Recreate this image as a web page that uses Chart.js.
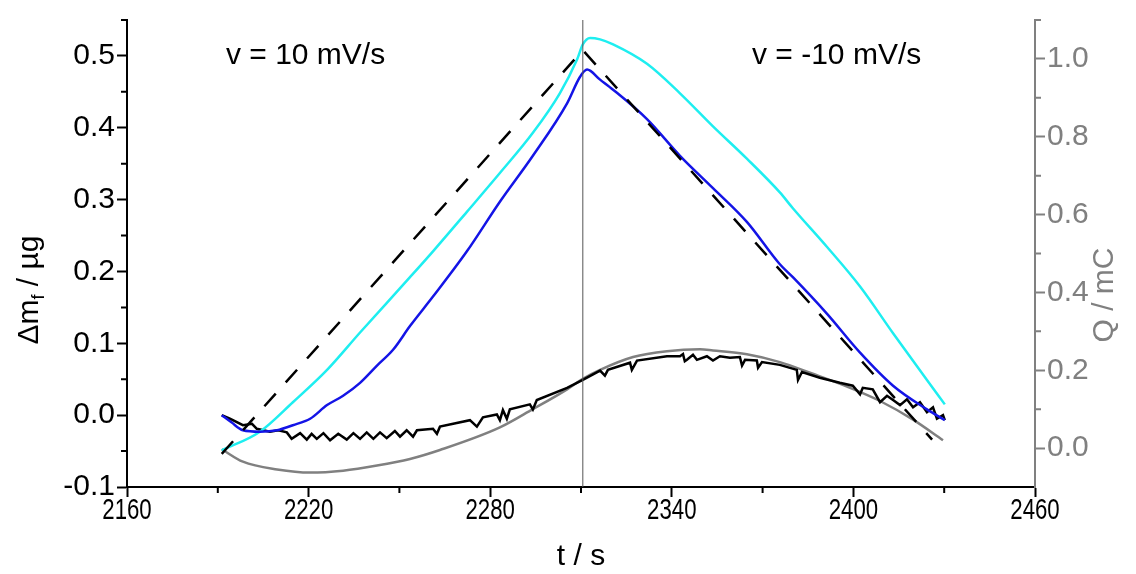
<!DOCTYPE html>
<html>
<head>
<meta charset="utf-8">
<script src="https://cdn.jsdelivr.net/npm/chart.js@4.4.1/dist/chart.umd.min.js"></script>
<style>
  html, body { margin: 0; padding: 0; background: #fff; }
  #wrap { width: 1136px; height: 574px; position: relative; }
</style>
</head>
<body>
<div id="wrap"><canvas id="chart"></canvas></div>
<script>
'use strict';

// time axis (s)
const xTicks = [2160, 2220, 2280, 2340, 2400, 2460];
const xMinor = [2190, 2250, 2310, 2370, 2430];
// left axis, mass change (µg)
const yTicks = [-0.1, 0.0, 0.1, 0.2, 0.3, 0.4, 0.5];
const yMinor = [-0.05, 0.05, 0.15, 0.25, 0.35, 0.45, 0.55];
// right axis, charge (mC)
const qTicks = [0.0, 0.2, 0.4, 0.6, 0.8, 1.0];
const qMinor = [0.1, 0.3, 0.5, 0.7, 0.9, 1.1];

const switchT = 2310.6;
const notes = ['v = 10 mV/s', 'v = -10 mV/s'];
const noteT = [2192.7, 2366.5];
const noteM = [0.5, 0.5];

// dashed black: model
const dashT = [2191.3, 2310.6, 2426.0];
const dashM = [-0.054, 0.508, -0.034];

// cyan
const cyanT = [2191.3, 2203.9, 2214.8, 2226.1, 2237.0, 2253.5, 2261.1, 2272.3, 2283.2, 2294.1, 2303.0, 2308.7,
  2310.6, 2313.0, 2316.3, 2320.6, 2331.8, 2342.7, 2353.6, 2364.8, 2375.7, 2380.0, 2391.3, 2402.2, 2413.1, 2424.3, 2430.2];
const cyanM = [-0.049, -0.023, 0.018, 0.063, 0.115, 0.192, 0.228, 0.283, 0.337, 0.393, 0.448, 0.495,
  0.516, 0.525, 0.523, 0.516, 0.489, 0.448, 0.402, 0.357, 0.310, 0.288, 0.234, 0.179, 0.114, 0.049, 0.015];

// blue
const blueT = [2191.3, 2194.5, 2198.3, 2203.9, 2209.6, 2214.8, 2220.5, 2226.1, 2231.4, 2237.0, 2242.6, 2247.9,
  2253.5, 2261.1, 2272.3, 2283.2, 2294.1, 2305.4, 2309.7, 2312.0, 2316.3, 2320.6, 2331.8, 2342.7, 2353.6,
  2364.8, 2375.7, 2380.0, 2391.3, 2402.2, 2413.1, 2424.3, 2430.2];
const blueM = [0.0, -0.010, -0.021, -0.023, -0.021, -0.014, -0.005, 0.014, 0.027, 0.045, 0.069, 0.091,
  0.124, 0.165, 0.228, 0.297, 0.361, 0.434, 0.471, 0.481, 0.467, 0.453, 0.412, 0.361, 0.316,
  0.269, 0.210, 0.192, 0.141, 0.087, 0.041, 0.008, -0.007];

// black, noisy
const blackT = [2191.3, 2194.0, 2198.3, 2201.3, 2202.9, 2207.2, 2210.0, 2212.8, 2214.4, 2217.2, 2219.4, 2221.0,
  2222.7, 2224.9, 2227.1, 2229.8, 2232.6, 2234.8, 2237.0, 2239.2, 2241.4, 2243.6, 2245.8, 2248.5, 2250.2,
  2252.4, 2254.5, 2255.8, 2261.1, 2262.4, 2263.4, 2273.3, 2275.6, 2277.6, 2282.2, 2283.2, 2284.2, 2285.5,
  2286.5, 2293.1, 2294.1, 2295.4, 2305.4, 2310.6, 2316.3, 2317.9, 2318.9, 2326.2, 2326.8, 2328.5, 2338.4,
  2342.7, 2343.7, 2344.3, 2345.0, 2347.0, 2348.3, 2351.6, 2353.6, 2355.9, 2359.2, 2362.5, 2363.2, 2364.2,
  2368.1, 2368.5, 2369.8, 2375.7, 2381.3, 2381.7, 2383.0, 2388.9, 2395.5, 2399.8, 2402.2, 2403.1, 2406.4,
  2408.8, 2411.1, 2413.1, 2415.4, 2417.7, 2419.7, 2422.0, 2424.3, 2426.3, 2427.6, 2429.6, 2430.2];
const blackM = [0.000, -0.005, -0.014, -0.012, -0.019, -0.023, -0.021, -0.024, -0.033, -0.025, -0.034, -0.026,
  -0.033, -0.025, -0.035, -0.026, -0.034, -0.025, -0.033, -0.024, -0.033, -0.024, -0.032, -0.022, -0.030,
  -0.021, -0.030, -0.021, -0.019, -0.026, -0.016, -0.007, -0.016, -0.003, 0.001, -0.007, 0.007, -0.005,
  0.008, 0.015, 0.008, 0.021, 0.038, 0.049, 0.062, 0.055, 0.063, 0.073, 0.063, 0.076, 0.082,
  0.082, 0.085, 0.075, 0.077, 0.084, 0.077, 0.082, 0.076, 0.082, 0.080, 0.081, 0.069, 0.077,
  0.076, 0.066, 0.074, 0.070, 0.063, 0.049, 0.060, 0.052, 0.045, 0.041, 0.029, 0.038, 0.036,
  0.018, 0.027, 0.021, 0.014, 0.022, 0.011, 0.018, 0.004, 0.011, -0.005, 0.000, -0.007];

// grey, charge on right axis
const greyT = [2191.3, 2198.3, 2209.6, 2220.5, 2231.4, 2242.6, 2253.5, 2263.4, 2283.2, 2294.1, 2305.4, 2310.6,
  2316.3, 2327.2, 2338.4, 2349.3, 2353.6, 2364.8, 2375.7, 2386.6, 2397.9, 2408.8, 2419.7, 2429.6];
const greyQ = [-0.003, -0.035, -0.055, -0.063, -0.058, -0.045, -0.028, -0.005, 0.053, 0.100, 0.151, 0.178,
  0.201, 0.234, 0.249, 0.254, 0.251, 0.241, 0.221, 0.191, 0.158, 0.121, 0.073, 0.020];

const grey = '#808080';
const font = '"Liberation Sans", Arial, sans-serif';

function pts(t, v) {
  return t.map((x, i) => ({ x: x, y: v[i] }));
}

const extras = {
  id: 'extras',
  afterDraw(chart) {
    const ctx = chart.ctx;
    const sx = chart.scales.x, sy = chart.scales.y, sq = chart.scales.q;
    ctx.save();
    ctx.lineWidth = 2;
    ctx.strokeStyle = '#000';
    ctx.beginPath();
    xMinor.forEach(v => {
      const p = sx.getPixelForValue(v);
      ctx.moveTo(p, sx.top);
      ctx.lineTo(p, sx.top + 6);
    });
    yMinor.forEach(v => {
      const p = sy.getPixelForValue(v);
      ctx.moveTo(sy.right, p);
      ctx.lineTo(sy.right - 6, p);
    });
    ctx.stroke();
    ctx.strokeStyle = grey;
    ctx.beginPath();
    qMinor.forEach(v => {
      const p = sq.getPixelForValue(v);
      ctx.moveTo(sq.left, p);
      ctx.lineTo(sq.left + 6, p);
    });
    ctx.stroke();

    const big = '30px ' + font, small = '18px ' + font;

    // x tick labels, narrow like the original
    ctx.fillStyle = '#000';
    ctx.font = big;
    ctx.textAlign = 'center';
    ctx.textBaseline = 'middle';
    xTicks.forEach(v => {
      ctx.save();
      ctx.translate(sx.getPixelForValue(v), sx.top + 24);
      ctx.scale(0.74, 1);
      ctx.fillText(String(v), 0, 0);
      ctx.restore();
    });
    ctx.fillText('t / s', (sx.left + sx.right) / 2, 557);

    // text in the plot
    ctx.textAlign = 'left';
    notes.forEach((n, i) => {
      ctx.fillText(n, sx.getPixelForValue(noteT[i]), sy.getPixelForValue(noteM[i]));
    });

    // left title, with subscript f
    ctx.save();
    ctx.translate(30, 290);
    ctx.rotate(-Math.PI / 2);
    ctx.font = big;
    const w1 = ctx.measureText('\u0394m').width;
    const w3 = ctx.measureText(' / \u00b5g').width;
    ctx.font = small;
    const w2 = ctx.measureText('f').width;
    let px = -(w1 + w2 + w3) / 2;
    ctx.font = big;
    ctx.fillText('\u0394m', px, 0);
    px += w1;
    ctx.font = small;
    ctx.fillText('f', px, 9);
    px += w2;
    ctx.font = big;
    ctx.fillText(' / \u00b5g', px, 0);
    ctx.restore();

    // right title
    ctx.save();
    ctx.translate(1105, 295);
    ctx.rotate(-Math.PI / 2);
    ctx.fillStyle = grey;
    ctx.font = big;
    ctx.textAlign = 'center';
    ctx.fillText('Q / mC', 0, 0);
    ctx.restore();

    ctx.restore();
  }
};

const ctx = document.getElementById('chart').getContext('2d');
const myChart = new Chart(ctx, {
  type: 'scatter',
  data: {
    datasets: [
      {
        data: pts([switchT, switchT], [-0.1, 0.55]),
        borderColor: '#555', borderWidth: 1
      },
      {
        data: pts(dashT, dashM),
        borderColor: '#000', borderWidth: 2.5, borderDash: [17, 15]
      },
      {
        data: pts(blueT, blueM),
        borderColor: '#1414e6', borderWidth: 2.5, cubicInterpolationMode: 'monotone'
      },
      {
        data: pts(cyanT, cyanM),
        borderColor: '#1eeef0', borderWidth: 2.5, cubicInterpolationMode: 'monotone'
      },
      {
        data: pts(blackT, blackM),
        borderColor: '#000', borderWidth: 2.5
      },
      {
        data: pts(greyT, greyQ),
        borderColor: grey, borderWidth: 2.5, cubicInterpolationMode: 'monotone',
        yAxisID: 'q'
      }
    ]
  },
  options: {
    responsive: true,
    maintainAspectRatio: false,
    animation: false,
    devicePixelRatio: 1,
    showLine: true,
    elements: { point: { radius: 0 } },
    layout: { padding: { top: 12, left: 0, right: 0, bottom: 0 } },
    plugins: { legend: { display: false }, tooltip: { enabled: false } },
    scales: {
      x: {
        type: 'linear', min: 2160, max: 2460,
        afterBuildTicks: s => { s.ticks = xTicks.map(v => ({ value: v })); },
        afterFit: s => { s.height = 87; },
        border: { display: true, color: '#000', width: 2 },
        grid: { display: true, drawOnChartArea: false, drawTicks: true, tickLength: 10, tickWidth: 2, tickColor: '#000' },
        ticks: { display: false }
      },
      y: {
        type: 'linear', position: 'left', min: -0.1, max: 0.55,
        afterBuildTicks: s => { s.ticks = yTicks.map(v => ({ value: v })); },
        afterFit: s => { s.width = 127; },
        border: { display: true, color: '#000', width: 2 },
        grid: { display: true, drawOnChartArea: false, drawTicks: true, tickLength: 10, tickWidth: 2, tickColor: '#000' },
        ticks: { color: '#000', padding: 2, font: { family: font, size: 30 }, callback: v => v.toFixed(1) }
      },
      q: {
        type: 'linear', position: 'right', min: -0.1, max: 1.1,
        afterBuildTicks: s => { s.ticks = qTicks.map(v => ({ value: v })); },
        afterFit: s => { s.width = 101; },
        border: { display: true, color: grey, width: 2 },
        grid: { display: true, drawOnChartArea: false, drawTicks: true, tickLength: 10, tickWidth: 2, tickColor: grey },
        ticks: { color: grey, padding: 2, font: { family: font, size: 30 }, callback: v => v.toFixed(1) }
      }
    }
  },
  plugins: [extras]
});
</script>
</body>
</html>
